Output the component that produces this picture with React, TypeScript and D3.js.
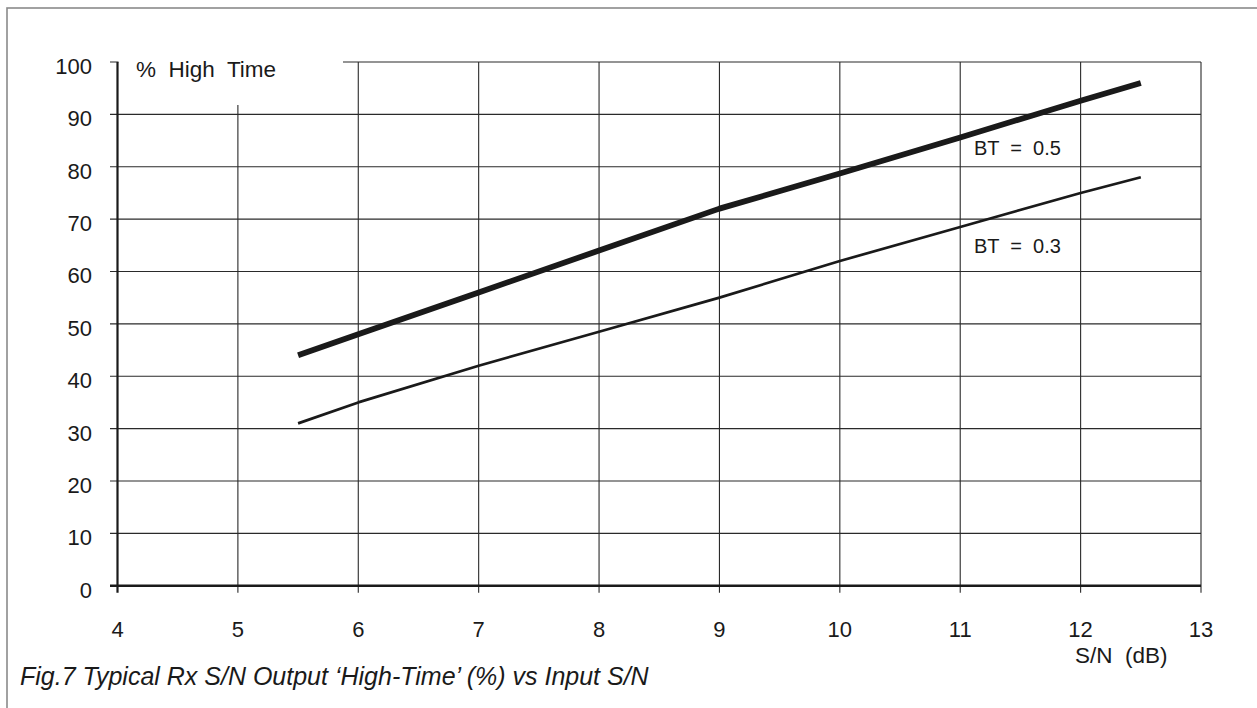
import React from "react";
import * as d3 from "d3";

const xTicks = [4, 5, 6, 7, 8, 9, 10, 11, 12, 13];
const yTicks = [0, 10, 20, 30, 40, 50, 60, 70, 80, 90, 100];

const snBT05 = [5.5, 6, 7, 8, 9, 10, 11, 12, 12.5];
const highBT05 = [44, 48, 56, 64, 72, 78.7, 85.6, 92.6, 96];

const snBT03 = [5.5, 6, 7, 8, 9, 10, 11, 12, 12.5];
const highBT03 = [31, 35, 42, 48.5, 55, 62, 68.5, 75, 78];

const W = 1257;
const H = 708;
const FONT = "'Liberation Sans', Arial, Helvetica, sans-serif";

export default function App() {
  const x = d3.scaleLinear().domain([4, 13]).range([117.5, 1201]);
  const y = d3.scaleLinear().domain([0, 100]).range([585.7, 62]);

  const line = d3
    .line<[number, number]>()
    .x((d) => x(d[0]))
    .y((d) => y(d[1]));

  const d05 = line(snBT05.map((v, i) => [v, highBT05[i]] as [number, number])) || "";
  const d03 = line(snBT03.map((v, i) => [v, highBT03[i]] as [number, number])) || "";

  return (
    <svg
      width={W}
      height={H}
      style={{ position: "absolute", left: 0, top: 0, background: "#fff" }}
      fontFamily={FONT}
    >
      <rect x={0} y={0} width={W} height={H} fill="#fff" />
      <rect x={7} y={8} width={1400} height={900} fill="none" stroke="#8a8a8a" strokeWidth={1.6} />

      {/* horizontal grid */}
      {yTicks.filter((t) => t > 0).map((t) => (
        <line key={"h" + t} x1={110} x2={x(13)} y1={y(t)} y2={y(t)} stroke="#2a2a2a" strokeWidth={1.1} />
      ))}
      {/* vertical grid */}
      {xTicks.filter((t) => t > 4).map((t) => (
        <line key={"v" + t} x1={x(t)} x2={x(t)} y1={y(100)} y2={y(0) + 7} stroke="#2a2a2a" strokeWidth={1.1} />
      ))}

      {/* mask behind y-axis label */}
      <rect x={x(4) + 1} y={y(100) - 3} width={343 - x(4) - 1} height={105 - y(100) + 3} fill="#fff" />

      {/* axes */}
      <line x1={x(4)} x2={x(4)} y1={y(100)} y2={y(0) + 7} stroke="#1a1a1a" strokeWidth={2.2} />
      <line x1={110} x2={x(13)} y1={y(0)} y2={y(0)} stroke="#1a1a1a" strokeWidth={2.6} />

      {/* data lines */}
      <path d={d03} fill="none" stroke="#1a1a1a" strokeWidth={2.7} strokeLinejoin="round" />
      <path d={d05} fill="none" stroke="#1a1a1a" strokeWidth={5.8} strokeLinejoin="round" />

      {/* tick labels */}
      {yTicks.map((t) => (
        <text key={"yl" + t} x={92} y={y(t) + 12} fontSize={22} textAnchor="end" fill="#1a1a1a">
          {t}
        </text>
      ))}
      {xTicks.map((t) => (
        <text key={"xl" + t} x={x(t)} y={636.7} fontSize={22} textAnchor="middle" fill="#1a1a1a">
          {t}
        </text>
      ))}

      <text x={136} y={77.3} fontSize={22.5} fill="#1a1a1a" style={{ whiteSpace: "pre" }}>
        {"%  High  Time"}
      </text>
      <text x={1075} y={663.3} fontSize={22.5} fill="#1a1a1a" style={{ whiteSpace: "pre" }}>
        {"S/N  (dB)"}
      </text>

      <text x={974} y={155} fontSize={20} fill="#1a1a1a" style={{ whiteSpace: "pre" }}>
        {"BT  =  0.5"}
      </text>
      <text x={974} y={252.7} fontSize={20} fill="#1a1a1a" style={{ whiteSpace: "pre" }}>
        {"BT  =  0.3"}
      </text>

      <text x={20} y={685} fontSize={25} fontStyle="italic" fill="#1a1a1a" style={{ whiteSpace: "pre" }}>
        {"Fig.7 Typical Rx S/N Output \u2018High-Time\u2019 (%) vs Input S/N"}
      </text>
    </svg>
  );
}
